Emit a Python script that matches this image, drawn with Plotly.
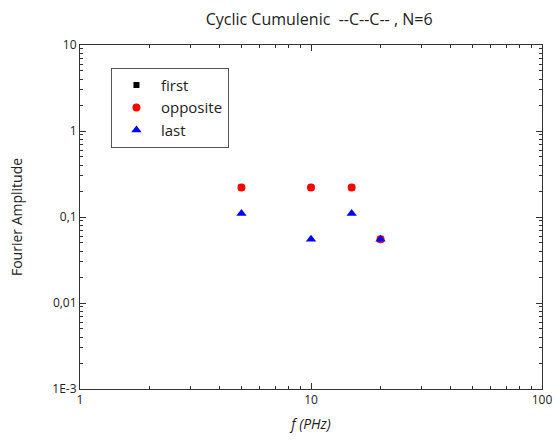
import plotly.graph_objects as go

freq = [5, 10, 15, 20]
first = [0.22, 0.22, 0.22, 0.055]
opposite = [0.22, 0.22, 0.22, 0.055]
last = [0.11, 0.055, 0.11, 0.055]

xtick_vals = [1, 10, 100]
xtick_text = ["1", "10", "100"]
ytick_vals = [0.001, 0.01, 0.1, 1, 10]
ytick_text = ["1E-3", "0,01", "0,1", "1", "10"]

x_minor = [m * 10 ** e for e in range(0, 2) for m in range(2, 10)]
y_minor = [m * 10 ** e for e in range(-3, 1) for m in range(2, 10)]

font = "Open Sans, Lato, sans-serif"

fig = go.Figure()
fig.add_trace(go.Scatter(x=freq, y=first, mode="markers", name="first",
                         marker=dict(symbol="square", color="black", size=6)))
fig.add_trace(go.Scatter(x=freq, y=opposite, mode="markers", name="opposite",
                         marker=dict(symbol="circle", color="red", size=8)))
fig.add_trace(go.Scatter(x=freq, y=last, mode="markers", name="last",
                         marker=dict(symbol="triangle-up", color="blue", size=9)))

axis_common = dict(
    type="log", showgrid=False, zeroline=False, showline=True, linecolor="#333",
    linewidth=1, mirror="allticks", ticks="inside", ticklen=6, tickcolor="#333",
    tickfont=dict(size=12, color="#222", family=font), automargin=False,
)

fig.update_layout(
    width=554, height=441,
    margin=dict(l=80, r=12, t=45, b=52),
    paper_bgcolor="white", plot_bgcolor="white",
    font=dict(family=font, color="#222"),
    title=dict(text="Cyclic Cumulenic  --C--C-- , N=6", x=0.576, xanchor="center",
               y=0.955, yanchor="middle", font=dict(size=16, color="#222", family=font)),
    xaxis=dict(axis_common, range=[0, 2], tickvals=xtick_vals, ticktext=xtick_text,
               minor=dict(tickmode="array", tickvals=x_minor, ticks="inside", ticklen=3,
                          tickcolor="#333", showgrid=False),
               title=dict(text="<i>f (PHz)</i>", font=dict(size=14, family=font), standoff=11)),
    yaxis=dict(axis_common, range=[-3, 1], tickvals=ytick_vals, ticktext=ytick_text,
               minor=dict(tickmode="array", tickvals=y_minor, ticks="inside", ticklen=3,
                          tickcolor="#333", showgrid=False),
               title=dict(text="Fourier Amplitude", font=dict(size=14, family=font), standoff=26)),
    legend=dict(x=0.067, y=0.934, xanchor="left", yanchor="top",
                bordercolor="#555", borderwidth=1, bgcolor="white",
                font=dict(size=15, family=font), itemwidth=39, tracegroupgap=0),
    showlegend=True,
)

fig.write_html("out.html")
